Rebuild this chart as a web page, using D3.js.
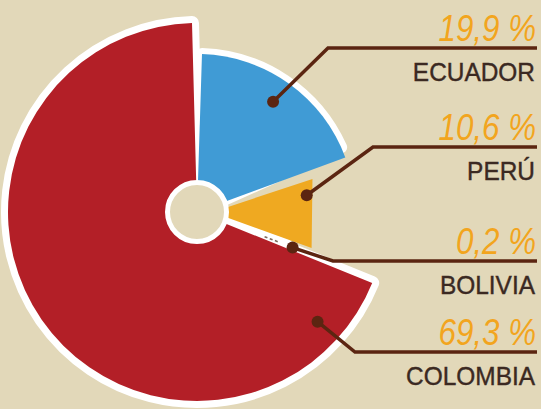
<!DOCTYPE html>
<html>
<head>
<meta charset="utf-8">
<script src="https://cdn.jsdelivr.net/npm/d3@7"></script>
<style>
  body { margin: 0; background: #e2d8b9; }
  svg { display: block; }
</style>
</head>
<body>
<svg width="541" height="409"></svg>
<script>
// Data
const countries = ['ECUADOR', 'PERÚ', 'BOLIVIA', 'COLOMBIA'];
const shares = [19.9, 10.6, 0.2, 69.3];
const shareLabels = ['19,9 %', '10,6 %', '0,2 %', '69,3 %'];

function drawChart() {
    const cx = 197;
    const cy = 212;
    const gap = 5; // half gap between slices, px
    const svg = d3.select('svg');

    const data = countries.map((c, i) => ({ country: c, share: shares[i], label: shareLabels[i] }));

    // slice radius + colour per country
    const radiusScale = d3.scaleOrdinal()
        .domain(countries)
        .range([158, 120, 95, 189]);
    const colorScale = d3.scaleOrdinal()
        .domain(countries)
        .range(['#409bd5', '#efa921', '#ffffff', '#b31f27']);

    const pie = d3.pie()
        .sort(null)
        .value(d => d.share);
    const arcs = pie(data);

    const arc = d3.arc()
        .innerRadius(0)
        .outerRadius(d => radiusScale(d.data.country))
        .padAngle(0.1)
        .padRadius(gap * 2 / 0.1);

    // straight-edged (chord) wedge, used for Peru
    function chordWedge(d) {
        const r = radiusScale(d.data.country);
        const pt = (a, rr, s) => [Math.sin(a) * rr + Math.cos(a) * s, -Math.cos(a) * rr + Math.sin(a) * s];
        const a0 = d.startAngle, a1 = d.endAngle;
        const p0 = pt(a0, 0, gap), p1 = pt(a0, r, gap);
        const p2 = pt(a1, r, -gap), p3 = pt(a1, 0, -gap);
        return d3.line()([p0, p1, p2, p3]) + 'Z';
    }

    const g = svg.append('g')
        .attr('transform', `translate(${cx}, ${cy})`);

    // white halos behind the slices (yellow has none)
    const haloWidth = { 'ECUADOR': 12, 'BOLIVIA': 12, 'COLOMBIA': 14 };
    g.selectAll('path.halo')
        .data(arcs.filter(d => haloWidth[d.data.country]))
        .join('path')
        .attr('class', 'halo')
        .attr('d', d => d.data.country === 'ECUADOR'
            ? arc(Object.assign({}, d, { endAngle: d.endAngle - 0.07 }))
            : arc(d))
        .attr('fill', '#fff')
        .attr('stroke', '#fff')
        .attr('stroke-linejoin', 'round')
        .attr('stroke-width', d => haloWidth[d.data.country]);

    // slices
    g.selectAll('path.slice')
        .data(arcs.filter(d => d.data.country !== 'BOLIVIA'))
        .join('path')
        .attr('class', 'slice')
        .attr('d', d => d.data.country === 'PERÚ' ? chordWedge(d) : arc(d))
        .attr('fill', d => colorScale(d.data.country));

    // tiny Bolivia slice shown as dashes
    const bol = arcs.find(d => d.data.country === 'BOLIVIA');
    const bolMid = (bol.startAngle + bol.endAngle) / 2;
    g.append('line')
        .attr('x1', Math.sin(bolMid) * 72)
        .attr('y1', -Math.cos(bolMid) * 72)
        .attr('x2', Math.sin(bolMid) * 87)
        .attr('y2', -Math.cos(bolMid) * 87)
        .attr('stroke', '#7d6a5c')
        .attr('stroke-width', 1.6)
        .attr('stroke-dasharray', '3 2.5');

    // hole
    g.append('circle')
        .attr('r', 29.5)
        .attr('fill', '#e2d8b9')
        .attr('stroke', '#fff')
        .attr('stroke-width', 5);

    // Leaders: dot (polar, deg / px from centre), elbow x, line y
    const leader = {
        'ECUADOR':  { angle: 34.6, r: 134, elbowX: 328, lineY: 48 },
        'PERÚ':     { angle: 81.3, r: 111, elbowX: 373, lineY: 147 },
        'BOLIVIA':  { angle: 110.4, r: 102, elbowX: 333, lineY: 261 },
        'COLOMBIA': { angle: 132.3, r: 163, elbowX: 355, lineY: 352 }
    };
    const rightX = 537;
    const brown = '#5b2511';

    data.forEach(d => {
        const L = leader[d.country];
        const a = L.angle * Math.PI / 180;
        const px = cx + Math.sin(a) * L.r;
        const py = cy - Math.cos(a) * L.r;
        svg.append('path')
            .attr('d', d3.line()([[px, py], [L.elbowX, L.lineY], [rightX, L.lineY]]))
            .attr('fill', 'none')
            .attr('stroke', brown)
            .attr('stroke-width', 3.5);
        svg.append('circle')
            .attr('cx', px)
            .attr('cy', py)
            .attr('r', 6)
            .attr('fill', brown);

        svg.append('text')
            .text(d.label)
            .attr('transform', `translate(${rightX - 1}, ${L.lineY - 7}) scale(0.87, 1)`)
            .style('text-anchor', 'end')
            .style('font-family', '"Liberation Sans", Arial, sans-serif')
            .style('font-style', 'italic')
            .style('font-size', '36px')
            .style('fill', '#f2a51e');
        svg.append('text')
            .text(d.country)
            .attr('transform', `translate(${rightX - 2}, ${L.lineY + 33}) scale(0.94, 1)`)
            .style('text-anchor', 'end')
            .style('font-family', '"Liberation Sans", Arial, sans-serif')
            .style('font-size', '26px')
            .style('fill', '#3b2922')
            .style('stroke', '#3b2922')
            .style('stroke-width', 0.4);
    });
}

window.addEventListener('load', drawChart);
</script>
</body>
</html>
